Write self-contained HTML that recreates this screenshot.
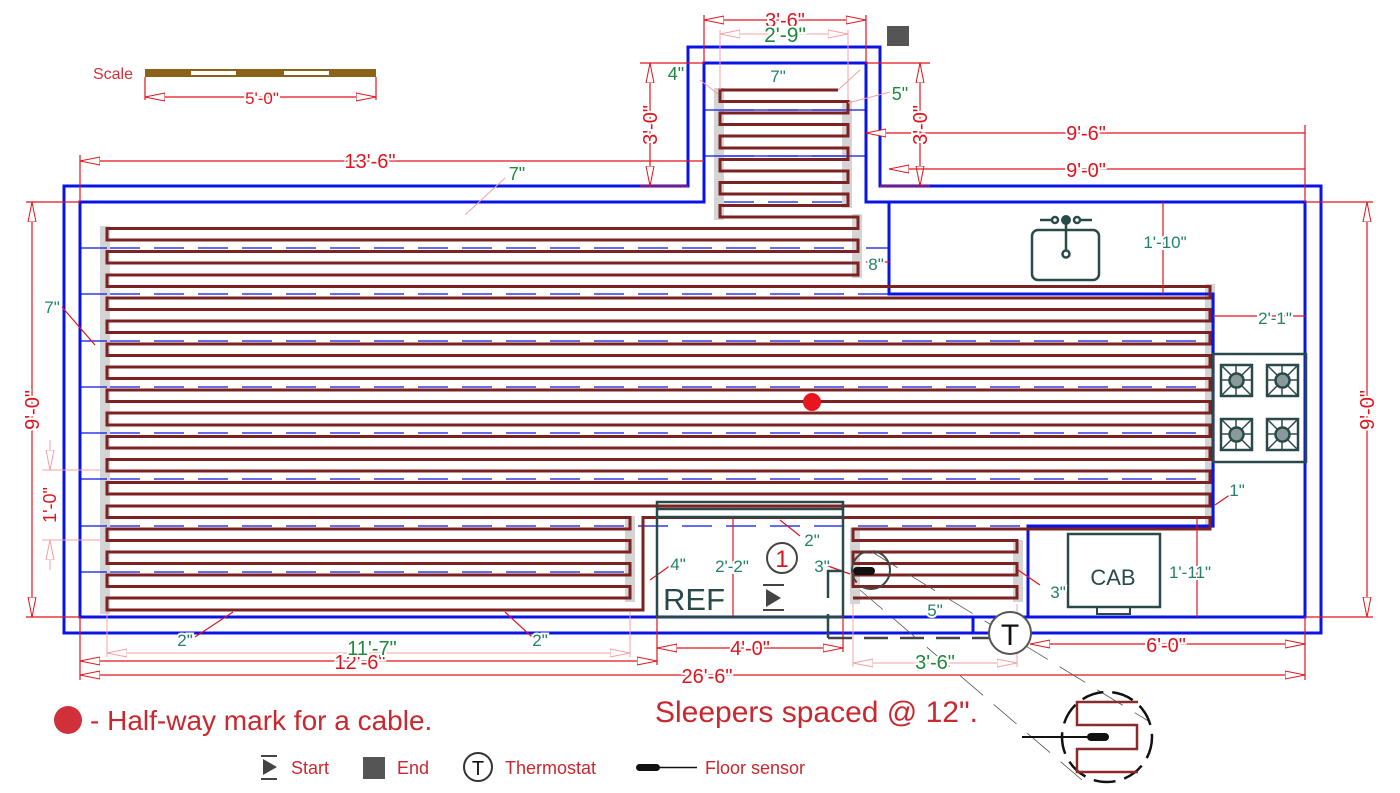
<!DOCTYPE html>
<html><head><meta charset="utf-8"><style>
html,body{margin:0;padding:0;background:#fff}
svg{display:block}
text{font-family:"Liberation Sans",sans-serif}
.r{fill:#e0141e}.g{fill:#1e8a3c}.t{fill:#23806a}
.h text{paint-order:stroke;stroke:#fff;stroke-width:4px}
</style></head><body>
<svg width="1400" height="793" viewBox="0 0 1400 793" xmlns="http://www.w3.org/2000/svg">
<defs>
<marker id="a" viewBox="0 0 20 10" refX="20" refY="5" markerWidth="20" markerHeight="10" markerUnits="userSpaceOnUse" orient="auto-start-reverse"><path d="M0 1 L20 5 L0 9 Z" fill="#fff" stroke="#e0141e" stroke-width="1"/></marker>
<marker id="p" viewBox="0 0 20 10" refX="20" refY="5" markerWidth="20" markerHeight="10" markerUnits="userSpaceOnUse" orient="auto-start-reverse"><path d="M0 1 L20 5 L0 9 Z" fill="#fff" stroke="#f4a0a4" stroke-width="1"/></marker>
</defs>

<g fill="#d4d4d4">
<rect x="714" y="88" width="10" height="132"/><rect x="842" y="100" width="10" height="108"/>
<rect x="852" y="214" width="10" height="64"/><rect x="100" y="226" width="10" height="388"/>
<rect x="1205" y="284" width="10" height="244"/><rect x="625" y="516" width="10" height="86"/>
<rect x="850" y="528" width="10" height="76"/><rect x="1013" y="540" width="10" height="62"/>
</g>

<g fill="none" stroke="#0a14e6" stroke-width="3">
<path d="M64 186 H688 V47 H880 V186 H1321 V633 H64 Z"/>
<path d="M80 202 H704 V63 H866 V202 H1305 V617 H80 Z"/>
<path d="M889 202 V294 H1213 V526 H1028 V617"/>
</g>
<g stroke="#0a14e6" stroke-width="1.3" fill="none">
<path d="M704 110 H866 M704 156 H866 M866 248 H889 M80 248 H107 M80 294 H107 M80 341 H107 M80 387 H107 M80 433 H107 M80 479 H107 M80 526 H107 M80 572 H107"/>
<g stroke-dasharray="30 14">
<path d="M724 110 H848 M724 156 H848 M724 202 H848"/>
<path d="M110 248 H858 M110 294 H1210 M110 341 H1210 M110 387 H1210 M110 433 H1210 M110 479 H1210 M110 526 H1210 M110 572 H630"/>
</g>
</g>
<path d="M973 617 V633" stroke="#0a14e6" stroke-width="3"/>

<g fill="none">
<path id="cab" d="M838 90 H720 V101.5 H848 V113 H720 V124.5 H848 V136 H720 V148 H848 V159.5 H720 V171 H848 V182.5 H720 V194 H848 V205.5 H720 V217 H858 V228.5 H107 V240 H858 V251.5 H107 V263 H858 V275 H107 V286.5 H1210 V298 H107 V309.5 H1210 V321 H107 V332.5 H1210 V344 H107 V355.5 H1210 V367 H107 V378.5 H1210 V390 H107 V401.5 H1210 V413 H107 V425 H1210 V436.5 H107 V448 H1210 V459.5 H107 V471 H1210 V482.5 H107 V494 H1210 V506 H107 V517.5 H630 V529 H107 V540.5 H630 V552 H107 V563.5 H630 V575 H107 V586.5 H630 V598 H107 V610 H643 V517.5 H1210 V529 H853 V540.5 H1017 V552 H853 V563.5 H1017 V575 H853 V586.5 H1017 V598 H853" stroke="#7d2222" stroke-width="3"/>
<use href="#cab" stroke="#f4e4e4" stroke-width="1"/>
</g>

<g stroke="#e0141e" stroke-width="1.2" fill="none">
<path d="M704 20 H866" marker-start="url(#a)" marker-end="url(#a)"/>
<path d="M704 15 V63 M866 15 V63"/>
<path d="M650 63 V186" marker-start="url(#a)" marker-end="url(#a)"/>
<path d="M640 63 H704 M640 186 H688"/>
<path d="M920 63 V186" marker-start="url(#a)" marker-end="url(#a)"/>
<path d="M866 63 H930 M880 186 H930"/>
<path d="M866 133 H1305" marker-start="url(#a)"/>
<path d="M889 169 H1305" marker-start="url(#a)"/>
<path d="M1305 125 V202"/>
<path d="M80 161 H704" marker-start="url(#a)"/>
<path d="M80 155 V202"/>
<path d="M32 202 V617" marker-start="url(#a)" marker-end="url(#a)"/>
<path d="M26 202 H80 M26 617 H80"/>
<path d="M1367 202 V617" marker-start="url(#a)" marker-end="url(#a)"/>
<path d="M1305 202 H1373 M1305 617 H1373"/>
<path d="M1163 202 V294 M1213 316 H1305 M733 518 V617 M1197 518 V617"/>
<path d="M80 661 H657" marker-start="url(#a)" marker-end="url(#a)"/>
<path d="M80 675 H1305" marker-start="url(#a)" marker-end="url(#a)"/>
<path d="M80 617 V680 M657 617 V665 M1305 617 V680"/>
<path d="M657 648 H843" marker-start="url(#a)" marker-end="url(#a)"/>
<path d="M843 617 V652"/>
<path d="M1030 644 H1305" marker-start="url(#a)" marker-end="url(#a)"/>
<path d="M145 97 H376" marker-start="url(#a)" marker-end="url(#a)"/>
<path d="M145 77 V100 M376 77 V100"/>
<path d="M62 307 L95 345 M650 580 L678 560 M780 520 L800 536 M828 566 L850 574 M1040 585 L1018 570 M1215 505 L1237 490 M233 612 L195 637 M505 612 L532 637 M866 262 L889 262"/>
</g>
<g stroke="#f4a0a4" stroke-width="1" fill="none">
<path d="M720 34 H848" marker-start="url(#p)" marker-end="url(#p)"/>
<path d="M720 30 V90 M848 30 V100"/>
<path d="M107 653 H630" marker-start="url(#p)" marker-end="url(#p)"/>
<path d="M107 612 V657 M630 612 V657"/>
<path d="M853 663 H1017" marker-start="url(#p)" marker-end="url(#p)"/>
<path d="M853 604 V667 M1017 604 V667"/>
<path d="M50 440 V470" marker-end="url(#p)"/><path d="M50 570 V540" marker-end="url(#p)"/>
<path d="M42 470 H100 M42 540 H100 M465 215 L505 178 M700 80 L718 94 M848 103 L890 92 M838 90 L860 70"/>
</g>

<rect x="145" y="69" width="231" height="8" fill="#8b6318"/>
<rect x="191" y="71" width="45" height="4" fill="#fff"/><rect x="284" y="71" width="45" height="4" fill="#fff"/>

<rect x="887" y="26" width="22" height="20" fill="#555"/>

<g stroke="#2a4a4a" fill="none" stroke-width="2.5">
<rect x="1032" y="230" width="67" height="50" rx="6"/>
<path d="M1066 218 V250 M1040 220 H1052 M1080 220 H1092"/>
<circle cx="1066" cy="254" r="3.5"/><circle cx="1055" cy="220" r="3"/><circle cx="1077" cy="220" r="3"/>
</g>
<circle cx="1066" cy="220" r="5" fill="#2a4a4a"/>

<g stroke="#2a4a4a" stroke-width="2.5" fill="none">
<rect x="1213" y="354" width="93" height="108"/>
<g id="b"><rect x="1221" y="365" width="31" height="31"/><path d="M1221 365 L1252 396 M1252 365 L1221 396 M1236 365 V396 M1221 380 H1252" stroke-width="1.5"/><circle cx="1236.5" cy="380.5" r="7" fill="#8a9a9a" stroke="#2a4a4a"/></g>
<use href="#b" x="46"/><use href="#b" y="54"/><use href="#b" x="46" y="54"/>
</g>

<g stroke="#2a4a4a" stroke-width="2.5" fill="none">
<path d="M657 502 H843 V617 H657 Z M657 509 H843 M657 517 H843"/>
<path d="M843 571 H828 V598 M828 614 V638"/>
<rect x="1068" y="534" width="92" height="73"/>
<rect x="1097" y="607" width="33" height="7" stroke-width="2"/>
</g>
<path d="M828 638 H990" stroke="#444" stroke-width="2.5" stroke-dasharray="24 12"/>
<text x="694" y="610" font-size="31" text-anchor="middle" fill="#2a4a4a">REF</text>
<text x="1113" y="585" font-size="22" text-anchor="middle" fill="#2a4a4a">CAB</text>
<circle cx="782" cy="558" r="15" fill="#fff" stroke="#444" stroke-width="2"/>
<text x="782" y="567" font-size="24" text-anchor="middle" class="r">1</text>
<g fill="#444"><path d="M766 589 L781 598 L766 607 Z"/><rect x="763" y="584" width="21" height="2"/><rect x="763" y="609" width="21" height="2"/></g>

<g stroke="#555" stroke-width="0.8" fill="none" stroke-dasharray="30 14">
<path d="M872 552 L1150 722 M860 590 L1082 780"/>
</g>
<circle cx="871" cy="570" r="19" fill="none" stroke="#444" stroke-width="2" stroke-dasharray="40 6"/>
<rect x="853" y="567" width="22" height="8" rx="4" fill="#111"/>
<circle cx="1010" cy="633" r="21" fill="#fff" stroke="#555" stroke-width="2"/>
<text x="1010" y="645" font-size="30" text-anchor="middle" fill="#111">T</text>

<circle cx="1107" cy="737" r="45" fill="none" stroke="#111" stroke-width="2.5" stroke-dasharray="22 9"/>
<path d="M1138 702 H1077 V725 H1137 V749 H1077 V772 H1138" fill="none" stroke="#8a2a2a" stroke-width="2.5"/>
<path d="M1022 737 H1095" stroke="#111" stroke-width="2"/>
<rect x="1087" y="733" width="22" height="8" rx="4" fill="#111"/>

<circle cx="812" cy="402" r="9" fill="#e8141e"/>

<g class="r h" text-anchor="middle" font-size="20">
<text x="785" y="27">3'-6"</text>
<text x="370" y="168">13'-6"</text>
<text x="1086" y="140">9'-6"</text>
<text x="1086" y="177">9'-0"</text>
<text x="360" y="669">12'-6"</text>
<text x="707" y="683">26'-6"</text>
<text x="750" y="655">4'-0"</text>
<text x="1166" y="652">6'-0"</text>
<text x="262" y="104" font-size="17">5'-0"</text>
<text transform="translate(657,125) rotate(-90)">3'-0"</text>
<text transform="translate(927,125) rotate(-90)">3'-0"</text>
<text transform="translate(39,410) rotate(-90)">9'-0"</text>
<text transform="translate(1374,410) rotate(-90)">9'-0"</text>
<text transform="translate(56,505) rotate(-90)" font-size="18">1'-0"</text>
</g>
<text x="113" y="79" font-size="16" fill="#d0303a" text-anchor="middle">Scale</text>
<g class="g h" text-anchor="middle" font-size="18">
<text x="785" y="42" font-size="21">2'-9"</text>
<text x="676" y="80">4"</text>
<text x="900" y="100">5"</text>
<text x="517" y="180">7"</text>
<text x="372" y="655" font-size="20">11'-7"</text>
<text x="935" y="669" font-size="20">3'-6"</text>
</g>
<g class="t h" text-anchor="middle" font-size="17">
<text x="778" y="82">7"</text>
<text x="52" y="313">7"</text>
<text x="876" y="270">8"</text>
<text x="1165" y="248">1'-10"</text>
<text x="1275" y="324">2'-1"</text>
<text x="1237" y="496">1"</text>
<text x="732" y="572">2'-2"</text>
<text x="812" y="546">2"</text>
<text x="678" y="570">4"</text>
<text x="822" y="572">3"</text>
<text x="935" y="616">5"</text>
<text x="1058" y="598">3"</text>
<text x="1190" y="578">1'-11"</text>
<text x="185" y="646">2"</text>
<text x="540" y="646">2"</text>
</g>

<circle cx="68" cy="720" r="14" fill="#d0303a"/>
<text x="90" y="730" font-size="28" fill="#c8282f">- Half-way mark for a cable.</text>
<text x="655" y="722" font-size="30" fill="#c8282f">Sleepers spaced @ 12".</text>
<g fill="#444"><path d="M263 759 L277 767 L263 775 Z"/><rect x="261" y="755" width="16" height="2"/><rect x="261" y="778" width="16" height="2"/></g>
<rect x="363" y="757" width="22" height="22" fill="#555"/>
<circle cx="478" cy="767" r="14" fill="none" stroke="#333" stroke-width="2"/>
<text x="478" y="775" font-size="20" text-anchor="middle" fill="#111">T</text>
<rect x="636" y="764" width="24" height="7" rx="3.5" fill="#111"/>
<path d="M656 767.5 H697" stroke="#111" stroke-width="1.5"/>
<g font-size="18" fill="#c8282f">
<text x="291" y="774">Start</text><text x="397" y="774">End</text><text x="505" y="774">Thermostat</text><text x="705" y="774">Floor sensor</text>
</g>
</svg>
</body></html>
